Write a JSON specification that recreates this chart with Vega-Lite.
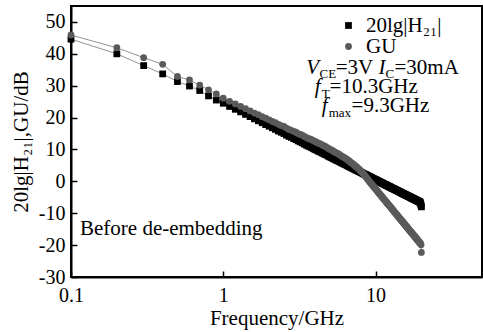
{
  "$schema": "https://vega.github.io/schema/vega-lite/v6.json",
  "width": 411,
  "height": 271,
  "autosize": "none",
  "padding": {"left": 71, "top": 6, "right": 1, "bottom": 55},
  "background": "white",
  "config": {
    "font": "Liberation Serif",
    "view": {"stroke": "black", "strokeWidth": 2},
    "axis": {
      "domainColor": "black", "domainWidth": 2, "tickColor": "black", "tickWidth": 1.5, "tickSize": -6,
      "labelFont": "Liberation Serif", "labelFontSize": 20, "labelColor": "black", "labelOverlap": false, "labelFlush": false,
      "titleFont": "Liberation Serif", "titleFontSize": 21, "titleFontWeight": "normal", "titleColor": "black",
      "grid": false
    },
    "legend": {"padding": 0}
  },
  "datasets": {
    "curves": [
      {"f":0.1,"H21":44.6,"GU":45.9},{"f":0.2,"H21":40.0,"GU":41.9},{"f":0.3,"H21":36.3,"GU":38.8},{"f":0.4,"H21":33.7,"GU":36.7},{"f":0.5,"H21":31.3,"GU":32.9},
      {"f":0.6,"H21":29.9,"GU":31.8},{"f":0.7,"H21":28.5,"GU":30.2},{"f":0.8,"H21":26.8,"GU":28.7},{"f":0.9,"H21":25.5,"GU":27.4},{"f":1.0,"H21":24.5,"GU":26.1},
      {"f":1.1,"H21":23.5,"GU":25.1},{"f":1.2,"H21":22.6,"GU":24.3},{"f":1.3,"H21":21.8,"GU":23.5},{"f":1.4,"H21":21.0,"GU":22.8},{"f":1.5,"H21":20.3,"GU":22.1},
      {"f":1.6,"H21":19.6,"GU":21.4},{"f":1.7,"H21":19.0,"GU":20.9},{"f":1.8,"H21":18.4,"GU":20.3},{"f":1.9,"H21":17.8,"GU":19.8},{"f":2.0,"H21":17.3,"GU":19.3},
      {"f":2.1,"H21":16.8,"GU":18.8},{"f":2.2,"H21":16.3,"GU":18.4},{"f":2.3,"H21":15.8,"GU":17.9},{"f":2.4,"H21":15.4,"GU":17.5},{"f":2.5,"H21":15.0,"GU":17.2},
      {"f":2.6,"H21":14.5,"GU":16.7},{"f":2.7,"H21":14.1,"GU":16.3},{"f":2.8,"H21":13.8,"GU":16.0},{"f":2.9,"H21":13.4,"GU":15.7},{"f":3.0,"H21":13.1,"GU":15.4},
      {"f":3.1,"H21":12.7,"GU":15.0},{"f":3.2,"H21":12.4,"GU":14.7},{"f":3.3,"H21":12.1,"GU":14.5},{"f":3.4,"H21":11.7,"GU":14.1},{"f":3.5,"H21":11.4,"GU":13.8},
      {"f":3.6,"H21":11.1,"GU":13.5},{"f":3.7,"H21":10.9,"GU":13.3},{"f":3.8,"H21":10.6,"GU":13.1},{"f":3.9,"H21":10.3,"GU":12.8},{"f":4.0,"H21":10.0,"GU":12.5},
      {"f":4.1,"H21":9.8,"GU":12.3},{"f":4.2,"H21":9.5,"GU":12.0},{"f":4.3,"H21":9.3,"GU":11.8},{"f":4.4,"H21":9.1,"GU":11.6},{"f":4.5,"H21":8.8,"GU":11.3},
      {"f":4.6,"H21":8.6,"GU":11.1},{"f":4.7,"H21":8.4,"GU":10.9},{"f":4.8,"H21":8.2,"GU":10.6},{"f":4.9,"H21":7.9,"GU":10.3},{"f":5.0,"H21":7.7,"GU":10.1},
      {"f":5.1,"H21":7.5,"GU":9.9},{"f":5.2,"H21":7.3,"GU":9.7},{"f":5.3,"H21":7.1,"GU":9.4},{"f":5.4,"H21":6.9,"GU":9.2},{"f":5.5,"H21":6.7,"GU":9.0},
      {"f":5.6,"H21":6.5,"GU":8.8},{"f":5.7,"H21":6.4,"GU":8.6},{"f":5.8,"H21":6.2,"GU":8.4},{"f":5.9,"H21":6.0,"GU":8.1},{"f":6.0,"H21":5.8,"GU":7.9},
      {"f":6.1,"H21":5.7,"GU":7.7},{"f":6.2,"H21":5.5,"GU":7.5},{"f":6.3,"H21":5.3,"GU":7.3},{"f":6.4,"H21":5.2,"GU":7.1},{"f":6.5,"H21":5.0,"GU":6.9},
      {"f":6.6,"H21":4.8,"GU":6.6},{"f":6.7,"H21":4.7,"GU":6.4},{"f":6.8,"H21":4.5,"GU":6.1},{"f":6.9,"H21":4.4,"GU":5.9},{"f":7.0,"H21":4.2,"GU":5.7},
      {"f":7.1,"H21":4.1,"GU":5.5},{"f":7.2,"H21":3.9,"GU":5.2},{"f":7.3,"H21":3.8,"GU":5.0},{"f":7.4,"H21":3.6,"GU":4.7},{"f":7.5,"H21":3.5,"GU":4.5},
      {"f":7.6,"H21":3.4,"GU":4.3},{"f":7.7,"H21":3.2,"GU":4.0},{"f":7.8,"H21":3.1,"GU":3.8},{"f":7.9,"H21":3.0,"GU":3.5},{"f":8.0,"H21":2.8,"GU":3.2},
      {"f":8.1,"H21":2.7,"GU":2.9},{"f":8.2,"H21":2.6,"GU":2.7},{"f":8.3,"H21":2.4,"GU":2.4},{"f":8.4,"H21":2.3,"GU":2.1},{"f":8.5,"H21":2.2,"GU":1.8},
      {"f":8.6,"H21":2.1,"GU":1.5},{"f":8.7,"H21":2.0,"GU":1.2},{"f":8.8,"H21":1.8,"GU":0.9},{"f":8.9,"H21":1.7,"GU":0.6},{"f":9.0,"H21":1.6,"GU":0.3},
      {"f":9.1,"H21":1.5,"GU":0.0},{"f":9.2,"H21":1.4,"GU":-0.3},{"f":9.3,"H21":1.3,"GU":-0.6},{"f":9.4,"H21":1.2,"GU":-0.8},{"f":9.5,"H21":1.0,"GU":-1.1},
      {"f":9.6,"H21":0.9,"GU":-1.4},{"f":9.7,"H21":0.8,"GU":-1.6},{"f":9.8,"H21":0.7,"GU":-1.9},{"f":9.9,"H21":0.6,"GU":-2.1},{"f":10.0,"H21":0.5,"GU":-2.4},
      {"f":10.1,"H21":0.4,"GU":-2.6},{"f":10.2,"H21":0.3,"GU":-2.9},{"f":10.3,"H21":0.2,"GU":-3.1},{"f":10.4,"H21":0.1,"GU":-3.4},{"f":10.5,"H21":0.0,"GU":-3.6},
      {"f":10.6,"H21":-0.1,"GU":-3.9},{"f":10.7,"H21":-0.2,"GU":-4.1},{"f":10.8,"H21":-0.3,"GU":-4.3},{"f":10.9,"H21":-0.4,"GU":-4.6},{"f":11.0,"H21":-0.5,"GU":-4.8},
      {"f":11.1,"H21":-0.6,"GU":-5.0},{"f":11.2,"H21":-0.7,"GU":-5.3},{"f":11.3,"H21":-0.8,"GU":-5.5},{"f":11.4,"H21":-0.9,"GU":-5.7},{"f":11.5,"H21":-1.0,"GU":-5.9},
      {"f":11.6,"H21":-1.1,"GU":-6.1},{"f":11.7,"H21":-1.1,"GU":-6.4},{"f":11.8,"H21":-1.2,"GU":-6.6},{"f":11.9,"H21":-1.3,"GU":-6.8},{"f":12.0,"H21":-1.4,"GU":-7.0},
      {"f":12.1,"H21":-1.5,"GU":-7.2},{"f":12.2,"H21":-1.6,"GU":-7.4},{"f":12.3,"H21":-1.7,"GU":-7.6},{"f":12.4,"H21":-1.7,"GU":-7.8},{"f":12.5,"H21":-1.8,"GU":-8.0},
      {"f":12.6,"H21":-1.9,"GU":-8.2},{"f":12.7,"H21":-2.0,"GU":-8.4},{"f":12.8,"H21":-2.1,"GU":-8.6},{"f":12.9,"H21":-2.2,"GU":-8.8},{"f":13.0,"H21":-2.2,"GU":-9.0},
      {"f":13.1,"H21":-2.3,"GU":-9.2},{"f":13.2,"H21":-2.4,"GU":-9.4},{"f":13.3,"H21":-2.5,"GU":-9.6},{"f":13.4,"H21":-2.5,"GU":-9.8},{"f":13.5,"H21":-2.6,"GU":-10.0},
      {"f":13.6,"H21":-2.7,"GU":-10.1},{"f":13.7,"H21":-2.8,"GU":-10.3},{"f":13.8,"H21":-2.9,"GU":-10.5},{"f":13.9,"H21":-2.9,"GU":-10.7},{"f":14.0,"H21":-3.0,"GU":-10.9},
      {"f":14.1,"H21":-3.1,"GU":-11.1},{"f":14.2,"H21":-3.2,"GU":-11.2},{"f":14.3,"H21":-3.2,"GU":-11.4},{"f":14.4,"H21":-3.3,"GU":-11.6},{"f":14.5,"H21":-3.4,"GU":-11.8},
      {"f":14.6,"H21":-3.4,"GU":-11.9},{"f":14.7,"H21":-3.5,"GU":-12.1},{"f":14.8,"H21":-3.6,"GU":-12.3},{"f":14.9,"H21":-3.7,"GU":-12.4},{"f":15.0,"H21":-3.7,"GU":-12.6},
      {"f":15.1,"H21":-3.8,"GU":-12.8},{"f":15.2,"H21":-3.9,"GU":-12.9},{"f":15.3,"H21":-3.9,"GU":-13.1},{"f":15.4,"H21":-4.0,"GU":-13.3},{"f":15.5,"H21":-4.1,"GU":-13.4},
      {"f":15.6,"H21":-4.1,"GU":-13.6},{"f":15.7,"H21":-4.2,"GU":-13.8},{"f":15.8,"H21":-4.3,"GU":-13.9},{"f":15.9,"H21":-4.3,"GU":-14.1},{"f":16.0,"H21":-4.4,"GU":-14.2},
      {"f":16.1,"H21":-4.5,"GU":-14.4},{"f":16.2,"H21":-4.5,"GU":-14.6},{"f":16.3,"H21":-4.6,"GU":-14.7},{"f":16.4,"H21":-4.7,"GU":-14.9},{"f":16.5,"H21":-4.7,"GU":-15.0},
      {"f":16.6,"H21":-4.8,"GU":-15.2},{"f":16.7,"H21":-4.8,"GU":-15.3},{"f":16.8,"H21":-4.9,"GU":-15.5},{"f":16.9,"H21":-5.0,"GU":-15.6},{"f":17.0,"H21":-5.0,"GU":-15.8},
      {"f":17.1,"H21":-5.1,"GU":-15.9},{"f":17.2,"H21":-5.2,"GU":-16.1},{"f":17.3,"H21":-5.2,"GU":-16.2},{"f":17.4,"H21":-5.3,"GU":-16.3},{"f":17.5,"H21":-5.3,"GU":-16.5},
      {"f":17.6,"H21":-5.4,"GU":-16.6},{"f":17.7,"H21":-5.5,"GU":-16.8},{"f":17.8,"H21":-5.5,"GU":-16.9},{"f":17.9,"H21":-5.6,"GU":-17.1},{"f":18.0,"H21":-5.6,"GU":-17.2},
      {"f":18.1,"H21":-5.7,"GU":-17.3},{"f":18.2,"H21":-5.7,"GU":-17.5},{"f":18.3,"H21":-5.8,"GU":-17.6},{"f":18.4,"H21":-5.9,"GU":-17.8},{"f":18.5,"H21":-5.9,"GU":-17.9},
      {"f":18.6,"H21":-6.0,"GU":-18.0},{"f":18.7,"H21":-6.0,"GU":-18.2},{"f":18.8,"H21":-6.1,"GU":-18.3},{"f":18.9,"H21":-6.1,"GU":-18.4},{"f":19.0,"H21":-6.2,"GU":-18.6},
      {"f":19.1,"H21":-6.2,"GU":-18.7},{"f":19.2,"H21":-6.3,"GU":-18.8},{"f":19.3,"H21":-6.4,"GU":-19.0},{"f":19.4,"H21":-6.4,"GU":-19.1},{"f":19.5,"H21":-6.5,"GU":-19.2},
      {"f":19.6,"H21":-6.5,"GU":-19.4},{"f":19.7,"H21":-6.8,"GU":-19.5},{"f":19.8,"H21":-7.1,"GU":-19.6},{"f":19.9,"H21":-7.5,"GU":-19.9},{"f":20.0,"H21":-8.0,"GU":-22.3}
    ],
    "italic": [
      {"t":"V","f":3.51,"dB":33.7},{"t":"I","f":10.46,"dB":33.7},{"t":"f","f":3.98,"dB":27.7},{"t":"f","f":4.43,"dB":21.7}
    ],
    "subs": [
      {"t":"CE","f":4.29,"dB":32.3},{"t":"C","f":11.63,"dB":32.3},{"t":"T","f":4.43,"dB":26.3},{"t":"max","f":4.92,"dB":20.3}
    ],
    "plain": [
      {"t":"=3V","f":5.47,"dB":33.7},{"t":"=30mA","f":13.32,"dB":33.7},{"t":"=10.3GHz","f":4.99,"dB":27.7},{"t":"=9.3GHz","f":6.96,"dB":21.7},
      {"t":"Before de-embedding","f":0.1146,"dB":-16.9}
    ]
  },
  "encoding": {
    "x": {"field": "f", "type": "quantitative", "scale": {"type": "log", "domain": [0.1, 50], "nice": false},
          "axis": {"values": [0.1, 1, 10], "labelExpr": "datum.value < 1 ? '0.1' : '' + datum.value", "labelPadding": 14, "labelOverlap": false, "title": "Frequency/GHz", "titlePadding": 2}},
    "y": {"field": "dB", "type": "quantitative", "scale": {"domain": [-30, 55], "nice": false},
          "axis": {"values": [-30, -20, -10, 0, 10, 20, 30, 40, 50], "labelExpr": "'' + datum.value", "labelPadding": 12, "labelOverlap": false, "title": "20lg|H₂₁|,GU/dB", "titlePadding": 7}}
  },
  "layer": [
    {
      "data": {"name": "curves"},
      "transform": [{"fold": ["H21", "GU"], "as": ["series", "dB"]}],
      "mark": {"type": "line", "color": "#777777", "strokeWidth": 0.8},
      "encoding": {"detail": {"field": "series"}}
    },
    {
      "data": {"name": "curves"},
      "transform": [{"fold": ["H21", "GU"], "as": ["series", "dB"]}],
      "mark": {"type": "point", "filled": true, "opacity": 1, "size": 46},
      "encoding": {
        "order": {"field": "series", "sort": "descending"},
        "color": {"field": "series", "type": "nominal", "scale": {"domain": ["H21", "GU"], "range": ["#000000", "#5a5a5a"]},
          "legend": {
            "orient": "none", "legendX": 267, "legendY": 9, "title": null,
            "labelFont": "Liberation Serif", "labelFontSize": 21, "labelColor": "black", "labelOffset": 7,
            "labelExpr": "datum.label == 'H21' ? '20lg|H₂₁|' : 'GU'",
            "symbolSize": 46, "rowPadding": -2
          }},
        "shape": {"field": "series", "type": "nominal", "scale": {"domain": ["H21", "GU"], "range": ["square", "circle"]}}
      }
    },
    {
      "data": {"name": "italic"},
      "mark": {"type": "text", "align": "left", "baseline": "alphabetic", "fontSize": 21, "fontStyle": "italic", "font": "Liberation Serif", "color": "black"},
      "encoding": {"text": {"field": "t"}}
    },
    {
      "data": {"name": "subs"},
      "mark": {"type": "text", "align": "left", "baseline": "alphabetic", "fontSize": 13, "font": "Liberation Serif", "color": "black"},
      "encoding": {"text": {"field": "t"}}
    },
    {
      "data": {"name": "plain"},
      "mark": {"type": "text", "align": "left", "baseline": "alphabetic", "fontSize": 21, "font": "Liberation Serif", "color": "black"},
      "encoding": {"text": {"field": "t"}}
    }
  ]
}
